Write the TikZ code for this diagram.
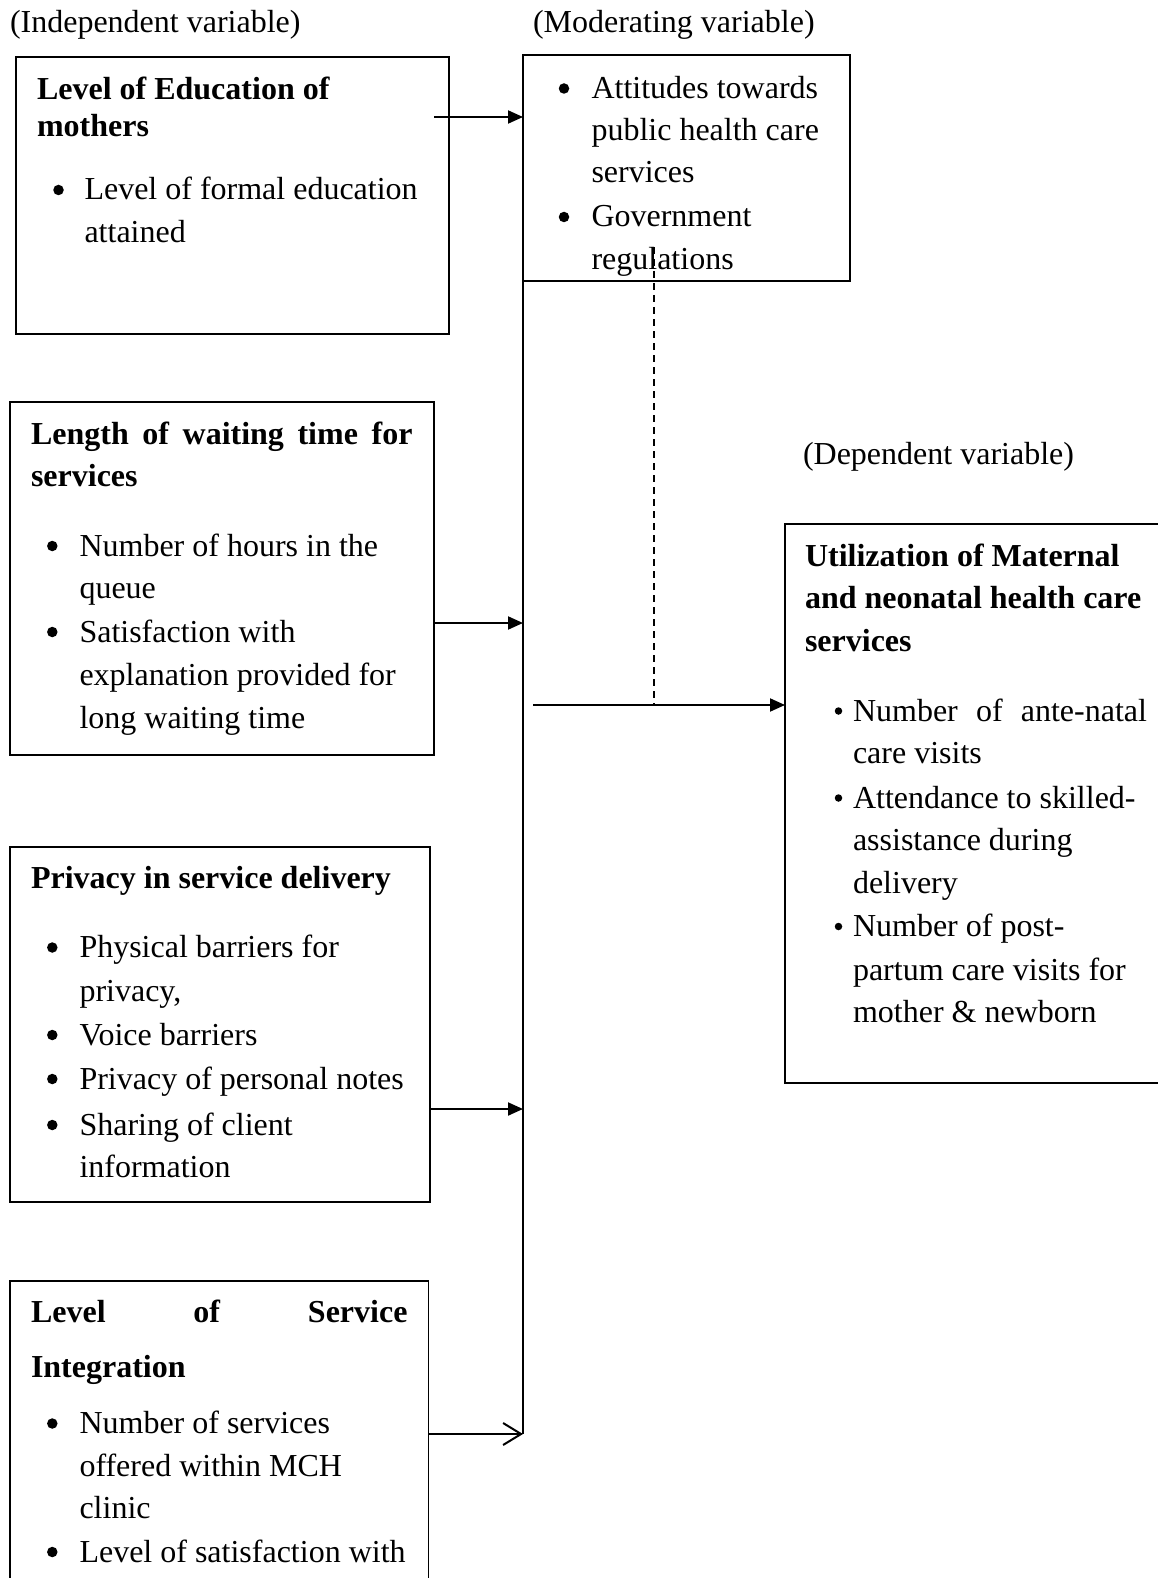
\documentclass[tikz,border=0pt]{standalone}
\usepackage{fontspec}
\setmainfont{Liberation Serif}
\usetikzlibrary{arrows.meta}
\begin{document}
\begin{tikzpicture}[x=1pt,y=-1pt,
  every node/.style={inner sep=0pt, outer sep=0pt, font=\fontsize{32}{43}\selectfont},
  txt/.style={anchor=base west},
  hd/.style={anchor=base west, font=\fontsize{32}{43}\selectfont\bfseries},
  boxst/.style={draw, line width=1.5pt, anchor=north west},
  conn/.style={line width=2pt},
  arr/.style={line width=2pt, -{Triangle[length=15pt,width=13pt]}},
  oarr/.style={line width=2pt, -{Straight Barb[length=18pt,width=22pt,line width=2pt]}},
  dsh/.style={line width=1.4pt, dash pattern=on 7pt off 5pt},
  bul/.style={fill, circle, minimum size=10.5pt},
  sbul/.style={fill, circle, minimum size=7.5pt}
]
\useasboundingbox (0,0) rectangle (1157,1578);

% labels
\node[txt] (lind) at (10,33) {(Independent variable)};
\node[txt] (lmod) at (533,33) {(Moderating variable)};
\node[txt] (ldep) at (803,464) {(Dependent variable)};

% boxes
\node[boxst, minimum width=433pt, minimum height=277pt] (b1) at (16,57) {};
\node[boxst, minimum width=327pt, minimum height=226pt] (mod) at (523,55) {};
\node[boxst, minimum width=424pt, minimum height=353pt] (b2) at (10,402) {};
\node[boxst, minimum width=420pt, minimum height=355pt] (b3) at (10,847) {};
\node[boxst, minimum width=418.5pt, minimum height=330pt] (b4) at (10,1281) {};
\node[boxst, minimum width=375pt, minimum height=559pt] (rb) at (785,524) {};

% box 1
\node[hd] (b1h1) at (37,99.5) {Level of Education of};
\node[hd] (b1h2) at (37,137) {mothers};
\node[bul] (b1d1) at (58.5,190) {};
\node[txt] (b1t1) at (84.5,200) {Level of formal education};
\node[txt] (b1t2) at (84.5,243) {attained};

% moderating box
\node[bul] (md1) at (564,88.5) {};
\node[txt] (mt1) at (591.5,98.5) {Attitudes towards};
\node[txt] (mt2) at (591.5,141) {public health care};
\node[txt] (mt3) at (591.5,183) {services};
\node[bul] (md2) at (564,217) {};
\node[txt] (mt4) at (591.5,227) {Government};
\node[txt] (mt5) at (591.5,269.5) {regulations};

% box 2
\node[hd] (b2h1) at (31,444) {\hbox to 381.5pt{Length\hfil of\hfil waiting\hfil time\hfil for}};
\node[hd] (b2h2) at (31,486) {services};
\node[bul] (b2d1) at (52.3,546) {};
\node[txt] (b2t1) at (79.5,556) {Number of hours in the};
\node[txt] (b2t2) at (79.5,598.5) {queue};
\node[bul] (b2d2) at (52.3,632) {};
\node[txt] (b2t3) at (79.5,642) {Satisfaction with};
\node[txt] (b2t4) at (79.5,685) {explanation provided for};
\node[txt] (b2t5) at (79.5,728) {long waiting time};

% box 3
\node[hd] (b3h1) at (31,888) {Privacy in service delivery};
\node[bul] (b3d1) at (52.3,947.5) {};
\node[txt] (b3t1) at (79.5,957.5) {Physical barriers for};
\node[txt] (b3t2) at (79.5,1001) {privacy,};
\node[bul] (b3d2) at (52.3,1035) {};
\node[txt] (b3t3) at (79.5,1045) {Voice barriers};
\node[bul] (b3d3) at (52.3,1079) {};
\node[txt] (b3t4) at (79.5,1089) {Privacy of personal notes};
\node[bul] (b3d4) at (52.3,1125) {};
\node[txt] (b3t5) at (79.5,1135) {Sharing of client};
\node[txt] (b3t6) at (79.5,1177) {information};

% box 4
\node[hd] (b4h1) at (31,1322) {\hbox to 376.5pt{Level\hfil of\hfil Service}};
\node[hd] (b4h2) at (31,1377) {Integration};
\node[bul] (b4d1) at (52.3,1423.5) {};
\node[txt] (b4t1) at (79.5,1433.5) {Number of services};
\node[txt] (b4t2) at (79.5,1476) {offered within MCH};
\node[txt] (b4t3) at (79.5,1518) {clinic};
\node[bul] (b4d2) at (52.3,1552) {};
\node[txt] (b4t4) at (79.5,1562) {Level of satisfaction with};

% right box
\node[hd] (rh1) at (805,566) {Utilization of Maternal};
\node[hd] (rh2) at (805,608.5) {and neonatal health care};
\node[hd] (rh3) at (805,651) {services};
\node[sbul] (rd1) at (838.5,711) {};
\node[txt] (rt1) at (853,721) {\hbox to 294pt{Number\hfil of\hfil ante-natal}};
\node[txt] (rt2) at (853,763.5) {care visits};
\node[sbul] (rd2) at (838.5,798) {};
\node[txt] (rt3) at (853,808) {Attendance to skilled-};
\node[txt] (rt4) at (853,850) {assistance during};
\node[txt] (rt5) at (853,893) {delivery};
\node[sbul] (rd3) at (838.5,926.5) {};
\node[txt] (rt6) at (853,936.5) {Number of post-};
\node[txt] (rt7) at (853,980) {partum care visits for};
\node[txt] (rt8) at (853,1022) {mother \& newborn};

% connector coordinates
\coordinate (s1) at (434,117);
\coordinate (v1) at (523,117);
\coordinate (v2) at (523,623);
\coordinate (v3) at (523,1109);
\coordinate (v4) at (523,1434);
\coordinate (ms) at (533,705);
\coordinate (dtop) at (654,247);
\coordinate (dbot) at (654,705);

% connectors
\draw[conn] (mod.south west) -- (v4);
\draw[arr] (s1) -- (v1);
\draw[arr] (b2.east |- v2) -- (v2);
\draw[arr] (b3.east |- v3) -- (v3);
\draw[oarr] (b4.east |- v4) -- (v4);
\draw[arr] (ms) -- (rb.west |- ms);
\draw[dsh] (dtop) -- (dbot);
\end{tikzpicture}
\end{document}
